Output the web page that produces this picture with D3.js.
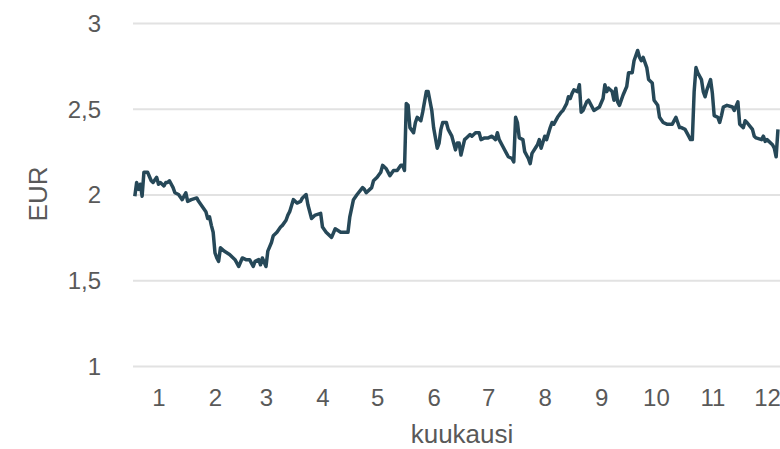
<!DOCTYPE html>
<html>
<head>
<meta charset="utf-8">
<script src="https://cdn.jsdelivr.net/npm/d3@7"></script>
<style>
  body { margin: 0; background: #fff; }
  svg { display: block; font-family: "Liberation Sans", Arial, sans-serif; }
</style>
</head>
<body>
<script>
// day of year and EUR value
var days = [1,2,3,4,5,6,8,10,11,13,14,15,17,18,19,20,22,23,25,27,29,30,32,35,36,38,40,41,42,43,44,45,46,47,48,50,53,56,58,
  60,62,64,66,67,69,70,71,73,74,76,77,79,81,82,84,85,86,88,90,92,93,95,96,98,100,103,104,106,109,111,114,116,118,
  119,121,123,126,127,128,131,132,134,136,137,139,141,143,145,147,148,149,150,151,152,154,155,156,158,159,161,162,164,165,167,168,169,170,172,173,175,177,178,179,
  180,182,183,185,186,188,190,191,193,195,197,199,200,201,203,205,206,208,209,210,211,212,214,215,217,218,219,222,223,224,226,227,229,230,231,233,235,236,238,239,
  240,241,242,244,245,246,247,249,250,252,253,256,258,259,260,261,263,264,265,266,267,268,269,271,272,274,275,277,278,279,280,282,283,285,286,288,289,291,293,295,296,298,299,300,
  301,303,305,306,307,308,309,310,312,313,314,315,317,318,319,321,322,323,324,326,329,330,332,333,335,336,337,340,341,342,345,346,347,348,351,352,353,354];
var eur = [1.99,2.07,2.03,2.06,1.99,2.13,2.13,2.08,2.07,2.10,2.06,2.07,2.05,2.07,2.07,2.08,2.04,2.01,2.00,1.97,2.01,1.96,1.97,1.98,1.96,1.93,1.90,1.86,1.87,1.82,1.78,1.66,1.63,1.61,1.69,1.67,1.65,1.62,1.58,
  1.63,1.62,1.62,1.58,1.61,1.62,1.59,1.63,1.58,1.67,1.72,1.76,1.78,1.81,1.82,1.85,1.88,1.90,1.97,1.95,1.96,1.98,2.00,1.94,1.86,1.88,1.89,1.81,1.78,1.75,1.80,1.78,1.78,1.78,
  1.87,1.97,2.00,2.04,2.03,2.01,2.04,2.08,2.10,2.13,2.17,2.15,2.11,2.14,2.14,2.17,2.17,2.14,2.53,2.52,2.39,2.36,2.42,2.45,2.43,2.48,2.60,2.60,2.49,2.39,2.27,2.30,2.38,2.42,2.42,2.38,2.34,2.26,2.30,2.30,
  2.23,2.32,2.33,2.35,2.34,2.36,2.36,2.32,2.33,2.33,2.34,2.32,2.36,2.32,2.28,2.24,2.22,2.21,2.19,2.45,2.42,2.33,2.32,2.25,2.21,2.18,2.24,2.29,2.32,2.27,2.34,2.32,2.39,2.42,2.41,2.45,2.48,2.49,2.53,2.57,
  2.56,2.59,2.61,2.60,2.64,2.48,2.49,2.54,2.55,2.51,2.49,2.51,2.56,2.64,2.60,2.62,2.60,2.55,2.62,2.54,2.52,2.55,2.58,2.63,2.71,2.71,2.78,2.84,2.80,2.78,2.80,2.74,2.67,2.65,2.55,2.52,2.45,2.42,2.41,2.41,2.41,2.45,2.42,2.39,
  2.39,2.38,2.34,2.32,2.32,2.60,2.74,2.71,2.67,2.60,2.57,2.61,2.67,2.59,2.46,2.45,2.42,2.46,2.51,2.52,2.51,2.49,2.54,2.41,2.39,2.43,2.42,2.38,2.34,2.33,2.32,2.34,2.31,2.32,2.29,2.27,2.22,2.38];

var monthLabels = ["1","2","3","4","5","6","7","8","9","10","11","12"];
var monthTickDays = [14,45,73,104,134,165,195,226,257,287,318,348];
var yTicks = [1, 1.5, 2, 2.5, 3];

var width = 780, height = 449;
var textColor = "#595959";

var svg = d3.select("body").append("svg")
  .attr("width", width)
  .attr("height", height);

var x = d3.scaleLinear().domain([0, 365]).range([133, 798]);
var y = d3.scaleLinear().domain([1, 3]).range([366, 23]);

// gridlines + y labels
var yAxis = d3.axisLeft(y)
  .tickValues(yTicks)
  .tickSize(-(798 - 133))
  .tickPadding(32)
  .tickFormat(function (d) { return String(d).replace(".", ","); });

var gy = svg.append("g")
  .attr("transform", "translate(133,0)")
  .call(yAxis);
gy.select(".domain").remove();
gy.selectAll(".tick line").attr("stroke", "#e2e2e2").attr("stroke-width", 2);
gy.selectAll(".tick text").attr("fill", textColor).attr("font-size", 24).attr("dy", "0.35em");

// month labels
var xAxis = d3.axisBottom(x)
  .tickValues(monthTickDays)
  .tickSize(0)
  .tickPadding(0)
  .tickFormat(function (d, i) { return monthLabels[i]; });

var gx = svg.append("g")
  .attr("transform", "translate(0,389)")
  .call(xAxis);
gx.select(".domain").remove();
gx.selectAll(".tick text").attr("fill", textColor).attr("font-size", 24);

// line
var pts = days.map(function (d, i) { return [d, eur[i]]; });
var line = d3.line()
  .x(function (d) { return x(d[0]); })
  .y(function (d) { return y(d[1]); });

svg.append("path")
  .datum(pts)
  .attr("d", line)
  .attr("fill", "none")
  .attr("stroke", "#264858")
  .attr("stroke-width", 3.5)
  .attr("stroke-linejoin", "round");

// axis titles
svg.append("text")
  .attr("x", 462)
  .attr("y", 443)
  .attr("text-anchor", "middle")
  .attr("fill", textColor)
  .attr("font-size", 26)
  .text("kuukausi");

svg.append("text")
  .attr("transform", "translate(47,194) rotate(-90)")
  .attr("text-anchor", "middle")
  .attr("fill", textColor)
  .attr("font-size", 26)
  .text("EUR");
</script>
</body>
</html>
